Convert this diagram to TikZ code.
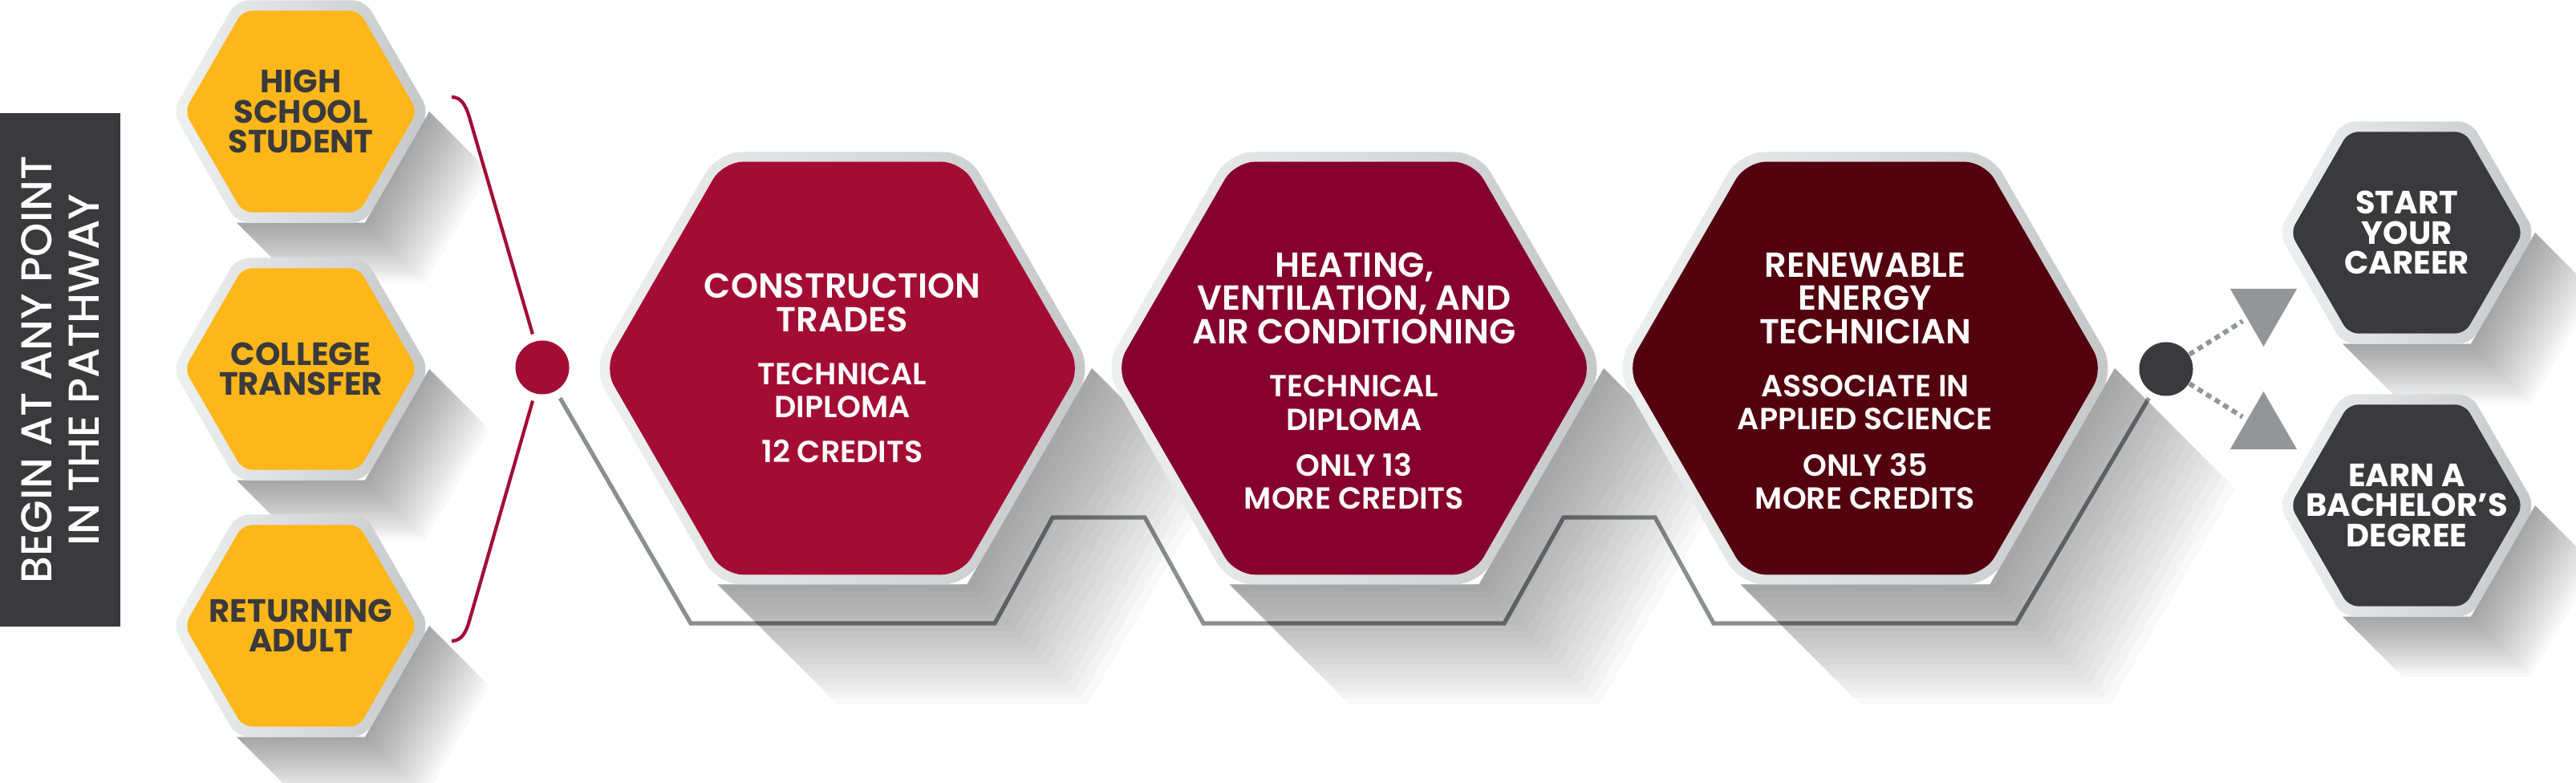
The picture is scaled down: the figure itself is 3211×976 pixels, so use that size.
\documentclass[tikz,border=0pt]{standalone}
\usepackage{fontspec}
\setmainfont{Poppins}
\IfFontExistsTF{Poppins Bold}{\newfontfamily\popbold{Poppins Bold}}{\newfontfamily\popbold{Poppins}[FakeBold=2]}
\IfFontExistsTF{Poppins SemiBold}{\newfontfamily\popsemi{Poppins SemiBold}}{\newfontfamily\popsemi{Poppins}[FakeBold=1.5]}
\IfFontExistsTF{Poppins Medium}{\newfontfamily\popmed{Poppins Medium}}{\newfontfamily\popmed{Poppins}[FakeBold=0.8]}
\usepackage{tikz}
\usetikzlibrary{positioning}
\usetikzlibrary{calc}
\usetikzlibrary{shapes.geometric}
\usetikzlibrary{backgrounds}

\definecolor{hexyellow}{HTML}{FDB71A}
\definecolor{trades}{HTML}{A30D34}
\definecolor{hvac}{HTML}{86002D}
\definecolor{renew}{HTML}{53000F}
\definecolor{charcoal}{HTML}{3A3A3C}
\definecolor{pathgray}{HTML}{8D8E91}
\definecolor{arrowgray}{HTML}{939598}
\definecolor{ringlight}{HTML}{EFF0F0}
\definecolor{ringdark}{HTML}{C6C7C9}

% soft shadow swept from the lower half of a hexagon: centre, radius, length
\newcommand{\castshadow}[3]{%
  \foreach \len in {1,...,18}{%
    \fill[black, opacity=0.024]
      ($(#1)+(0:#2)$) -- ($(#1)+(0:#2)+(#3*\len/18,-#3*\len/18)$)
      -- ($(#1)+(-60:#2)+(#3*\len/18,-#3*\len/18)$) -- ($(#1)+(-120:#2)+(#3*\len/18,-#3*\len/18)$)
      -- ($(#1)+(-120:#2)$) -- ($(#1)+(-60:#2)$) -- cycle;}}
\newcommand{\credline}[1]{{\fontsize{10.8}{12}\selectfont #1}}

\tikzset{
  ring/.style={regular polygon, regular polygon sides=6, inner sep=0pt,
    left color=ringlight, right color=ringdark},
  smallring/.style={ring, minimum size=3.2cm, rounded corners=0.16cm},
  bigring/.style={ring, minimum size=6.22cm, rounded corners=0.3cm},
  starthex/.style={regular polygon, regular polygon sides=6, inner sep=0pt,
    minimum size=2.9cm, rounded corners=0.12cm, fill=hexyellow},
  endhex/.style={starthex, fill=charcoal},
  starttext/.style={text=charcoal, align=center, inner sep=0pt,
    font=\popbold\fontsize{11.4}{10.7}\selectfont},
  endtext/.style={starttext, text=white},
  stephex/.style={regular polygon, regular polygon sides=6, inner sep=0pt,
    minimum size=5.94cm, rounded corners=0.25cm},
  steptext/.style={text=white, align=center, inner sep=0pt,
    font=\popsemi\fontsize{12.3}{11.8}\selectfont},
  banner/.style={fill=charcoal, text=white, rotate=90, inner sep=0pt,
    minimum width=6.39cm, minimum height=1.5cm, align=center,
    font=\popmed\fontsize{15.3}{16.8}\selectfont},
  hub/.style={circle, inner sep=0pt, minimum size=0.67cm},
  gotri/.style={regular polygon, regular polygon sides=3, inner sep=0pt,
    minimum size=0.96cm, fill=arrowgray},
  bracket/.style={draw=trades, line width=1.2pt},
  pathline/.style={draw=pathgray, line width=1.5pt},
  gopath/.style={draw=arrowgray, line width=1.7pt, dash pattern=on 0.07cm off 0.055cm}
}

\begin{document}
\begin{tikzpicture}[x=0.01cm, y=0.01cm]
  \useasboundingbox (0,0) rectangle (3211,976);

  % side banner
  \node[banner] (banner) at (75,515) {BEGIN AT ANY POINT\\IN THE PATHWAY};

  % entry points
  \node[smallring] (high school ring) at (375,837) {};
  \node[starthex] (high school) at (375,837) {};
  \node[starttext] (high school text) at (high school) {HIGH\\SCHOOL\\STUDENT};
  \node[smallring] (transfer ring) at (375,516) {};
  \node[starthex] (transfer) at (375,516) {};
  \node[starttext] (transfer text) at (transfer) {COLLEGE\\TRANSFER};
  \node[smallring] (adult ring) at (375,196) {};
  \node[starthex] (adult) at (375,196) {};
  \node[starttext] (adult text) at (adult) {RETURNING\\ADULT};

  \node[hub, fill=trades] (entry dot) at (676,518) {};
  \coordinate (bracket top) at (563,855);
  \coordinate (bracket bottom) at (563,177);

  % pathway steps
  \node[bigring] (trades ring) at (1050,517) {};
  \node[stephex, fill=trades] (trades) at (1050,517) {};
  \node[steptext] (trades text) at (1050,517)
    {CONSTRUCTION\\TRADES\\[7pt]\credline{TECHNICAL}\\\credline{DIPLOMA}\\[4pt]\credline{12 CREDITS}};

  \node[bigring] (hvac ring) at (1688,517) {};
  \node[stephex, fill=hvac] (hvac) at (1688,517) {};
  \node[steptext] (hvac text) at (1688,501)
    {HEATING,\\VENTILATION, AND\\AIR CONDITIONING\\[7pt]\credline{TECHNICAL}\\\credline{DIPLOMA}\\[4.5pt]\credline{ONLY 13}\\\credline{MORE CREDITS}};

  \node[bigring] (renew ring) at (2325,517) {};
  \node[stephex, fill=renew] (renew) at (2325,517) {};
  \node[steptext] (renew text) at (2325,501)
    {RENEWABLE\\ENERGY\\TECHNICIAN\\[7pt]\credline{ASSOCIATE IN}\\\credline{APPLIED SCIENCE}\\[4.5pt]\credline{ONLY 35}\\\credline{MORE CREDITS}};

  % outcomes
  \node[hub, fill=charcoal] (finish dot) at (2700,516) {};
  \node[gotri, shape border rotate=180] (career arrow) at (2821.5,592) {};
  \node[gotri] (degree arrow) at (2821.5,440) {};

  \node[smallring] (career ring) at (3000,686) {};
  \node[endhex] (career) at (3000,686) {};
  \node[endtext] (career text) at (career) {START\\YOUR\\CAREER};
  \node[smallring] (degree ring) at (3000,346) {};
  \node[endhex] (degree) at (3000,346) {};
  \node[endtext] (degree text) at (degree) {EARN A\\BACHELOR’S\\DEGREE};

  \draw[gopath, shorten >=0.06cm] (finish dot) -- (career arrow);
  \draw[gopath, shorten >=0.06cm] (finish dot) -- (degree arrow);

  \begin{scope}[on background layer]
    \draw[bracket, shorten >=0.09cm] (bracket top) to[out=0,in=107] (585,830) -- (entry dot);
    \draw[bracket, shorten <=0.09cm] (entry dot) -- (585,202) to[out=-106,in=0] (bracket bottom);
    \draw[pathline, shorten <=0.1cm, shorten >=0.08cm] (entry dot) -- (861,199) -- (1240,199)
      -- (1312,331) -- (1427,331) -- (1500,199) -- (1875,199) -- (1949,331)
      -- (2063,331) -- (2136,199) -- (2513,199) -- (finish dot);
    \castshadow{high school ring.center}{160}{75}
    \castshadow{transfer ring.center}{160}{75}
    \castshadow{adult ring.center}{160}{75}
    \castshadow{trades ring.center}{311}{150}
    \castshadow{hvac ring.center}{311}{150}
    \castshadow{renew ring.center}{311}{150}
    \castshadow{career ring.center}{160}{75}
    \castshadow{degree ring.center}{160}{75}
  \end{scope}
\end{tikzpicture}
\end{document}
